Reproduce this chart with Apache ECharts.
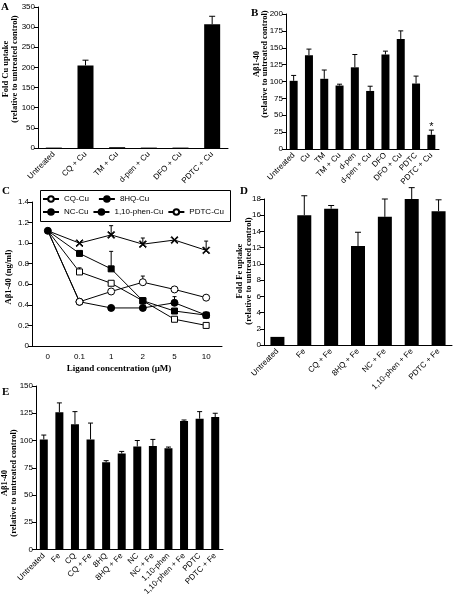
<!DOCTYPE html>
<html><head><meta charset="utf-8">
<script src="https://cdn.jsdelivr.net/npm/echarts@6/dist/echarts.min.js"></script>
<style>html,body{margin:0;padding:0;background:#fff}#c{width:453px;height:598px}</style>
</head><body><div id="c"></div>
<script>
// ---- Panel A ----
const catsA = ['Untreated','CQ + Cu','TM + Cu','d-pen + Cu','DFO + Cu','PDTC + Cu'];
const valsA = [1, 205, 2, 1, 1, 307];
const semA  = [0, 13, 0, 0, 0, 20];
const yAxisA = [0, 350, 50];
// ---- Panel B ----
const catsB = ['Untreated','Cu','TM','TM + Cu','d-pen','d-pen + Cu','DFO','DFO + Cu','PDTC','PDTC + Cu'];
const valsB = [101, 139, 104, 94, 121, 86, 140, 163, 97, 21];
const semB  = [8, 9, 13, 2, 19, 7, 5, 12, 11, 7];
const sigB  = ['', '', '', '', '', '', '', '', '', '*'];
const yAxisB = [0, 200, 25];
// ---- Panel C ----
const xC = ['0','0.1','1','2','5','10'];
const cqC   = [1.12, 0.72, 0.61, 0.44, 0.26, 0.20];
const cqErr = [0, 0.04, 0, 0, 0, 0];
const hqC   = [1.12, 0.43, 0.37, 0.37, 0.42, 0.30];
const hqErr = [0, 0, 0, 0, 0.06, 0];
const ncC   = [1.12, 0.90, 0.75, 0.44, 0.34, 0.30];
const ncErr = [0, 0, 0.17, 0.03, 0, 0];
const phenC = [1.12, 1.00, 1.08, 0.99, 1.03, 0.93];
const phenErr = [0, 0, 0.09, 0.06, 0, 0.09];
const pdtcC = [1.12, 0.43, 0.53, 0.62, 0.55, 0.47];
const pdtcErr = [0, 0, 0, 0.06, 0, 0];
const yAxisC = [0, 1.4, 0.2];
// ---- Panel D ----
const catsD = ['Untreated','Fe','CQ + Fe','8HQ + Fe','NC + Fe','1,10-phen + Fe','PDTC + Fe'];
const valsD = [1.0, 16.0, 16.8, 12.2, 15.8, 18.0, 16.5];
const semD  = [0, 2.4, 0.4, 1.7, 2.2, 1.4, 1.4];
const yAxisD = [0, 18, 2];
// ---- Panel E ----
const catsE = ['Untreated','Fe','CQ','CQ + Fe','8HQ','8HQ + Fe','NC','NC + Fe','1,10-phen','1,10-phen + Fe','PDTC','PDTC + Fe'];
const valsE = [101, 126, 115, 101, 80, 88, 94.5, 95, 93, 118, 120, 121.5];
const semE  = [4, 8.5, 11.5, 15, 1.5, 2, 5.5, 6, 1, 0.8, 6.5, 3.5];
const yAxisE = [0, 150, 25];

const SANS = '"Liberation Sans", Arial, sans-serif';
const SERIF = '"Liberation Serif", "Times New Roman", serif';

const chart = echarts.init(document.getElementById('c'), null, {renderer:'canvas'});

const grids = [], xAxes = [], yAxes = [], series = [];

function yAx(gi, r, fmt) {
  return {
    type:'value', gridIndex:gi, min:r[0], max:r[1], interval:r[2],
    splitLine:{show:false},
    axisLine:{show:true, lineStyle:{color:'#000', width:1}},
    axisTick:{show:true, length:4, lineStyle:{color:'#000'}},
    axisLabel:{color:'#000', fontSize:8, fontFamily:SANS, margin:3, showMinLabel:true, showMaxLabel:true,
      formatter: fmt || (v => String(v))}
  };
}
function xCat(gi, cats, rotate) {
  return {
    type:'category', gridIndex:gi, data:cats, boundaryGap:true,
    axisLine:{show:true, onZero:false, lineStyle:{color:'#000', width:1}},
    axisTick:{show:false},
    axisLabel:{color:'#000', fontSize:8, fontFamily:SANS, rotate:rotate, interval:0, margin:5}
  };
}
function errRender(capHalf, sig) {
  return function(params, api) {
    const x = api.value(0), v = api.value(1), e = api.value(2);
    const txt = sig ? sig[params.dataIndex] : '';
    const p0 = api.coord([x, v]);
    const p1 = api.coord([x, v + e]);
    const ch = [];
    if (e > 0) {
      ch.push({type:'line', shape:{x1:p0[0], y1:p0[1], x2:p1[0], y2:p1[1]}, style:{stroke:'#000', lineWidth:1}});
      ch.push({type:'line', shape:{x1:p1[0]-capHalf, y1:p1[1], x2:p1[0]+capHalf, y2:p1[1]}, style:{stroke:'#000', lineWidth:1}});
    }
    if (txt) {
      ch.push({type:'text', x:p1[0], y:p1[1]+2, style:{text:txt, fill:'#000', font:'11px ' + SANS, textAlign:'center', textVerticalAlign:'bottom'}});
    }
    return {type:'group', children:ch};
  };
}
function barPanel(gi, grid, cats, vals, sems, yr, barW, capHalf, sig) {
  grids.push(grid);
  xAxes.push(xCat(gi, cats, 45));
  yAxes.push(yAx(gi, yr));
  series.push({type:'bar', xAxisIndex:gi, yAxisIndex:gi, data:vals, barWidth:barW,
    itemStyle:{color:'#000'}, silent:true, z:2});
  series.push({type:'custom', xAxisIndex:gi, yAxisIndex:gi, z:3, silent:true,
    renderItem:errRender(capHalf, sig), encode:{x:0, y:1},
    data:vals.map((v, i) => [i, v, sems[i]])});
}

// A
barPanel(0, {left:38, top:7, width:190, height:141}, catsA, valsA, semA, yAxisA, 16, 3);
// B
barPanel(1, {left:286, top:14, width:153, height:135}, catsB, valsB, semB, yAxisB, 8, 2.5, sigB);
// C
grids.push({left:32, top:202, width:190, height:144});
xAxes.push({type:'category', gridIndex:2, data:xC, boundaryGap:true,
  axisLine:{show:true, onZero:false, lineStyle:{color:'#000'}},
  axisTick:{show:false},
  axisLabel:{color:'#000', fontSize:8, fontFamily:SANS, margin:7}});
yAxes.push(yAx(2, yAxisC, v => v === 0 ? '0' : v.toFixed(1)));
const noOrigin = (shape) => (val, p) => p.dataIndex === 0 ? 'none' : shape;
const X_PATH = 'path://M0,1 L1,0 L5,4 L9,0 L10,1 L6,5 L10,9 L9,10 L5,6 L1,10 L0,9 L4,5 Z';
const cSeries = [
  {name:'CQ-Cu', data:cqC, err:cqErr, symbol:noOrigin('rect'), size:6, fill:'#fff'},
  {name:'NC-Cu', data:ncC, err:ncErr, symbol:noOrigin('rect'), size:6, fill:'#000'},
  {name:'1,10-phen-Cu', data:phenC, err:phenErr, symbol:noOrigin(X_PATH), size:7, fill:'#000'},
  {name:'8HQ-Cu', data:hqC, err:hqErr, symbol:'circle', size:7, fill:'#000'},
  {name:'PDTC-Cu', data:pdtcC, err:pdtcErr, symbol:noOrigin('circle'), size:7, fill:'#fff'}
];
cSeries.forEach((s, k) => {
  series.push({type:'custom', xAxisIndex:2, yAxisIndex:2, z:3, silent:true,
    renderItem:errRender(2), encode:{x:0, y:1},
    data:s.data.map((v, i) => [i, v, s.err[i]])});
  series.push({type:'line', name:s.name, xAxisIndex:2, yAxisIndex:2, data:s.data,
    symbol:s.symbol, symbolSize:s.size, showSymbol:true, silent:true, z:4 + k,
    color:'#000',
    lineStyle:{color:'#000', width:1},
    itemStyle:{color:s.fill, borderColor:'#000', borderWidth:1}});
});
// D
barPanel(3, {left:264, top:199, width:188, height:146}, catsD, valsD, semD, yAxisD, 14, 3);
// E
barPanel(4, {left:36, top:386, width:187, height:171}, catsE, valsE, semE, yAxisE, 8, 2.5);

const legendCommon = {
  orient:'horizontal', itemWidth:16, itemHeight:7, itemGap:6, padding:0,
  textStyle:{color:'#000', fontSize:8, fontFamily:SANS},
  selectedMode:false
};

function vtitle(x, y, text, size) {
  return {type:'text', x:x, y:y, rotation:Math.PI/2, z:10,
    style:{text:text, fill:'#000', font:'bold ' + (size || 8.5) + 'px ' + SERIF, textAlign:'center', textVerticalAlign:'middle'}};
}
function letter(x, y, t) {
  return {type:'text', x:x, y:y, z:10, style:{text:t, fill:'#000', font:'bold 11px ' + SERIF, textAlign:'left', textVerticalAlign:'top'}};
}

const option = {
  animation:false,
  backgroundColor:'#fff',
  grid:grids, xAxis:xAxes, yAxis:yAxes, series:series,
  legend:[
    Object.assign({}, legendCommon, {data:['CQ-Cu','8HQ-Cu'], left:42, top:195, itemGap:9}),
    Object.assign({}, legendCommon, {data:['NC-Cu','1,10-phen-Cu','PDTC-Cu'], left:42, top:208, itemGap:4})
  ],
  graphic:[
    {type:'rect', z:1, shape:{x:40.5, y:190.5, width:190, height:31}, style:{fill:'#fff', stroke:'#000', lineWidth:1}},
    letter(1, 2, 'A'), letter(251, 8, 'B'), letter(2, 186, 'C'), letter(240, 186, 'D'), letter(2, 387, 'E'),
    vtitle(6, 69, 'Fold Cu uptake'), vtitle(15, 69, '(relative to untreated control)'),
    vtitle(257, 64, 'Aβ1-40'), vtitle(265, 64, '(relative to untreated control)'),
    vtitle(9, 277, 'Aβ1-40 (ng/ml)'),
    {type:'text', x:119, y:369, z:10, style:{text:'Ligand concentration (μM)', fill:'#000', font:'bold 9px ' + SERIF, textAlign:'center', textVerticalAlign:'middle'}},
    vtitle(240, 271, 'Fold Fe uptake'), vtitle(249, 271, '(relative to untreated control)'),
    vtitle(5, 483, 'Aβ1-40'), vtitle(14, 483, '(relative to untreated control)')
  ]
};
chart.setOption(option);
</script>
</body></html>
